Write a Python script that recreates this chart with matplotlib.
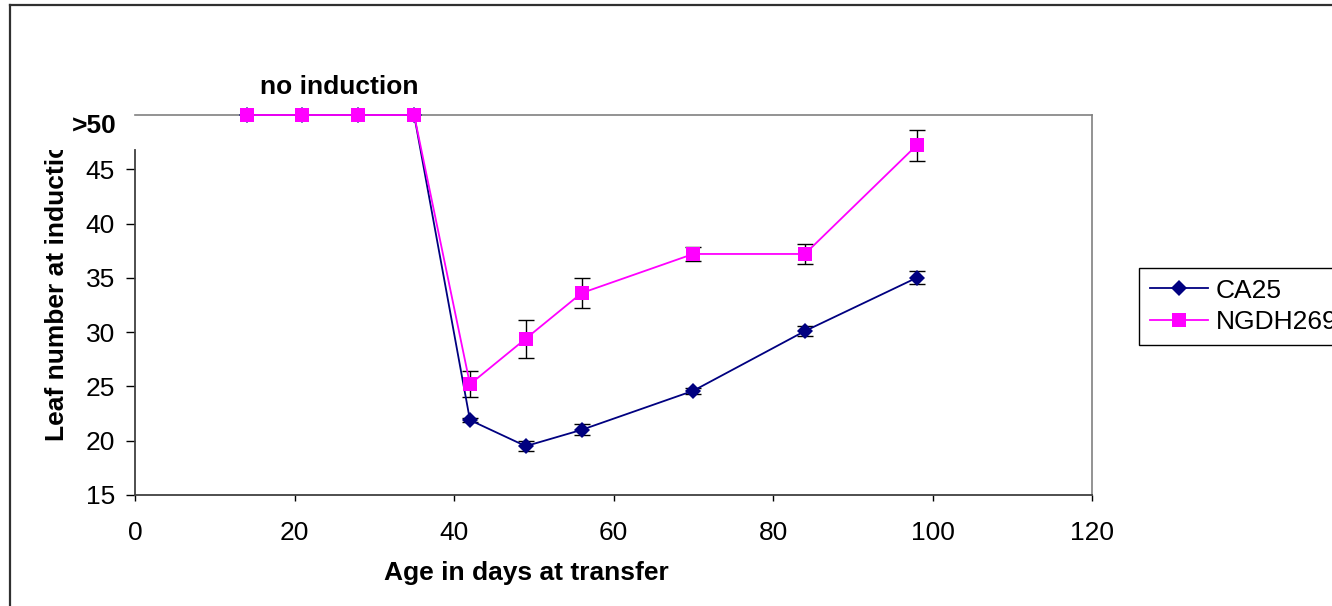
import matplotlib
matplotlib.use('Agg')
import matplotlib.pyplot as plt
from matplotlib.lines import Line2D
from matplotlib.transforms import Bbox, TransformedBbox

plt.rcParams['font.family'] = ['Liberation Sans', 'DejaVu Sans']

# Age in days at transfer
AGE = [14, 21, 28, 35, 42, 49, 56, 70, 84, 98]
# Leaf number at induction (50 = no induction, plotted as ">50")
CA25 = [50, 50, 50, 50, 21.9, 19.5, 21.0, 24.6, 30.1, 35.0]
CA25_ERR = [0, 0, 0, 0, 0.15, 0.45, 0.5, 0.3, 0.45, 0.6]
NGDH269 = [50, 50, 50, 50, 25.2, 29.4, 33.6, 37.2, 37.2, 47.2]
NGDH269_ERR = [0, 0, 0, 0, 1.2, 1.75, 1.35, 0.65, 0.9, 1.4]

Y_TICKS = [15, 20, 25, 30, 35, 40, 45]
X_TICKS = [0, 20, 40, 60, 80, 100, 120]

FS = 19
W, H = 1332, 606
fig = plt.figure(figsize=(W / 100, H / 100), dpi=100)
ax = fig.add_axes([135 / W, 1 - 495 / H, (1092 - 135) / W, (495 - 115) / H])

# error bars first, markers on top
ax.errorbar(AGE[4:], CA25[4:], yerr=CA25_ERR[4:], fmt='none', ecolor='black',
            elinewidth=1.0, capsize=5.5, capthick=1.0, zorder=2)
ax.errorbar(AGE[4:], NGDH269[4:], yerr=NGDH269_ERR[4:], fmt='none', ecolor='black',
            elinewidth=1.0, capsize=5.5, capthick=1.0, zorder=2)
ax.plot(AGE, CA25, color='#000080', lw=1.3, marker='D', markersize=8,
        markeredgewidth=0, label='CA25', zorder=3, clip_on=False)
ax.plot(AGE, NGDH269, color='#FF00FF', lw=1.3, marker='s', markersize=10,
        markeredgewidth=0, label='NGDH269', zorder=4, clip_on=False)

ax.set_xlim(0, 120)
ax.set_ylim(15, 50)
ax.set_xticks(X_TICKS)
ax.set_yticks(Y_TICKS)
ax.tick_params(axis='both', labelsize=FS, colors='black', width=1.0)
ax.tick_params(axis='x', direction='out', length=4, pad=15)
ax.tick_params(axis='y', direction='out', length=6.5, pad=8)

for side in ['top', 'right']:
    ax.spines[side].set_color('#808080')
    ax.spines[side].set_linewidth(1.2)
for side in ['left', 'bottom']:
    ax.spines[side].set_color('#404040')
    ax.spines[side].set_linewidth(1.3)
ax.spines['left'].set_bounds(15, 46.8)

# ">50" label in place of the top tick
ax.text(-2.3, 49.0, '>50', ha='right', va='center', fontsize=FS,
        fontweight='bold')
fig.text(339 / W, 1 - 87 / H, 'no induction', ha='center', va='center',
         fontsize=FS, fontweight='bold')
fig.text(526 / W, 1 - 573 / H, 'Age in days at transfer', ha='center',
         va='center', fontsize=FS, fontweight='bold')

# y label, clipped at the top as in the original
ylab = fig.text(57 / W, 1 - 441 / H, 'Leaf number at induction', rotation=90,
                ha='center', va='bottom', fontsize=FS, fontweight='bold')
ylab.set_clip_box(TransformedBbox(Bbox.from_extents(0, 0, 120 / W, 1 - 150 / H),
                                  fig.transFigure))
ylab.set_clip_on(True)

leg = fig.legend(loc='upper left', bbox_to_anchor=(1139 / W, 1 - 268 / H),
                 fontsize=FS, frameon=True, fancybox=False, framealpha=1,
                 edgecolor='black', handlelength=2.2, handletextpad=0.3,
                 borderpad=0.4, labelspacing=0.3, borderaxespad=0)
leg.get_frame().set_linewidth(1.0)

# outer chart border (top and left only visible)
fig.add_artist(Line2D([10 / W, 1], [1 - 5 / H, 1 - 5 / H], transform=fig.transFigure,
                      color='#303030', lw=1.6))
fig.add_artist(Line2D([10 / W, 10 / W], [0, 1 - 5 / H], transform=fig.transFigure,
                      color='#303030', lw=1.6))

fig.savefig('out.png', dpi=100)
